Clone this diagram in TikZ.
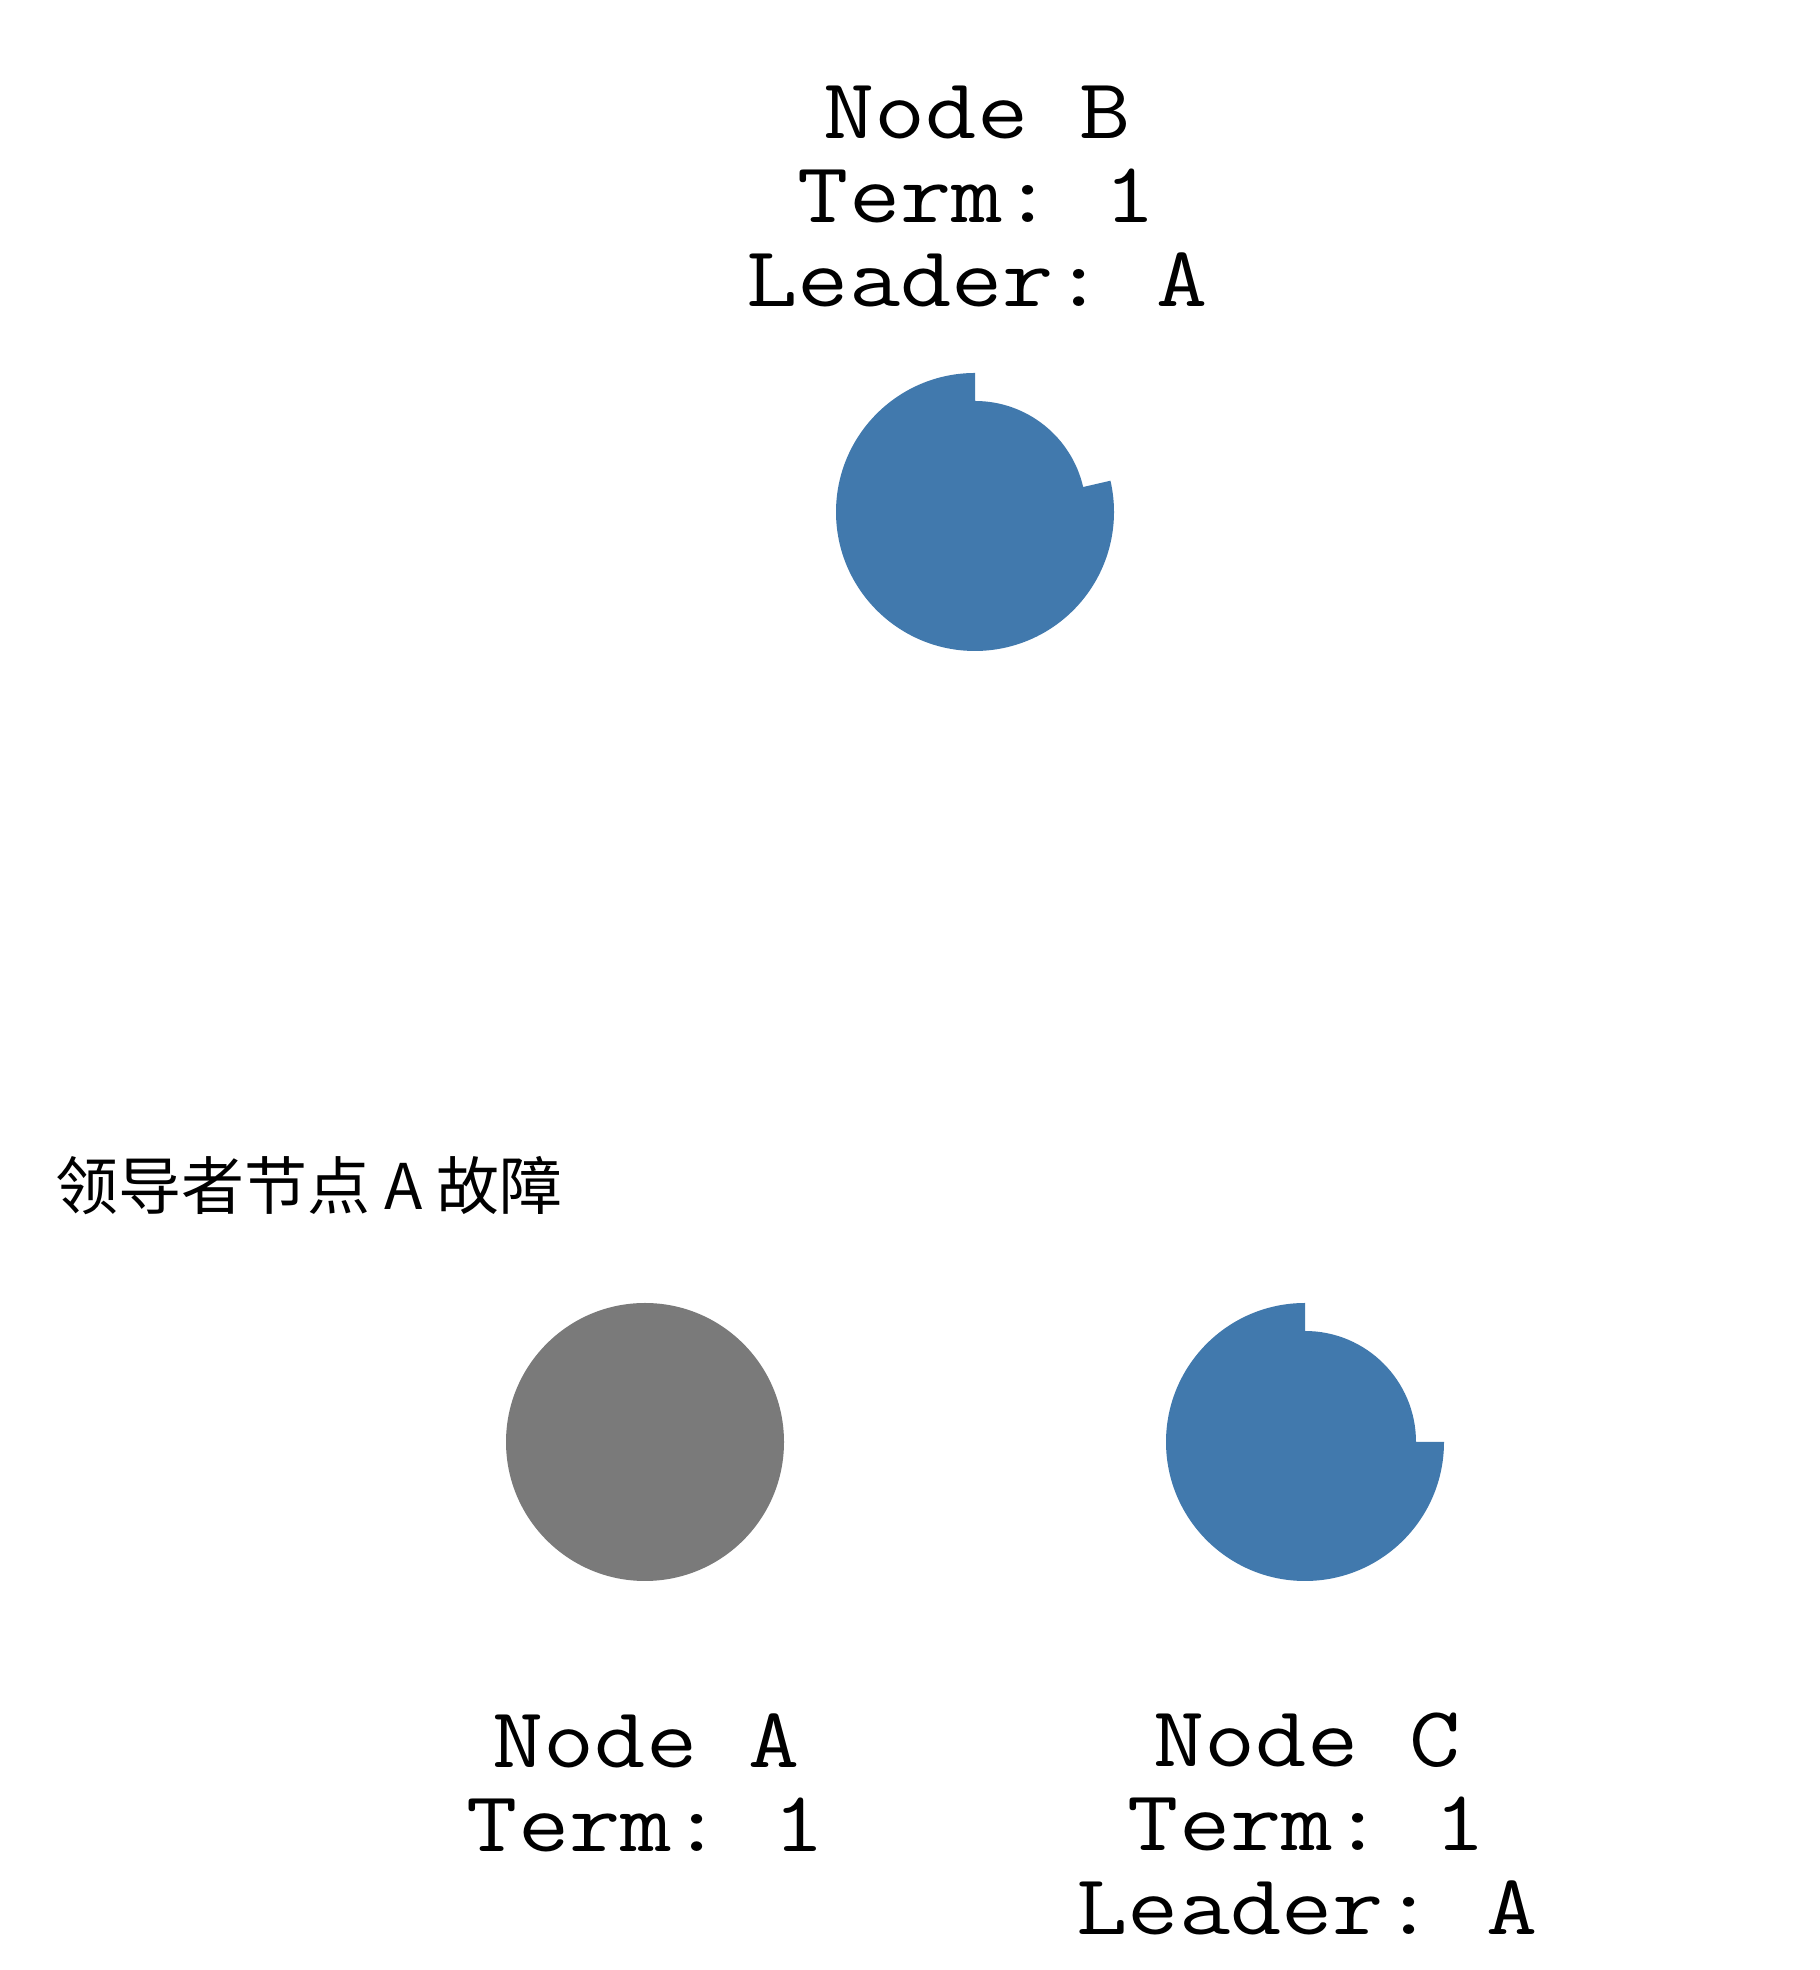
\documentclass[tikz,border=0pt]{standalone}
\usepackage{fontspec}
\setmonofont[FakeStretch=1.155]{Latin Modern Mono}
\newfontfamily\cjk{Noto Sans CJK SC}
\definecolor{nodeblue}{HTML}{4179AD}
\definecolor{deadgray}{HTML}{7A7A7A}
\tikzset{
  lbl/.style={font=\ttfamily\fontsize{86}{84}\selectfont, align=center, inner sep=0pt, anchor=base},
  note/.style={font=\cjk\fontsize{63}{70}\selectfont, inner sep=0pt, anchor=base west},
}
\begin{document}
\begin{tikzpicture}[x=1pt,y=1pt]
\useasboundingbox (0,0) rectangle (1820,1970);
\fill[white] (0,0) rectangle (1820,1970);
% centres
\coordinate (B) at (975,1458);
\coordinate (A) at (645,528);
\coordinate (C) at (1305,528);
% Node B (follower, timeout ring)
\fill[nodeblue] (B) ++(90:139) arc[start angle=90,end angle=373,radius=139]
  -- ++(193:28) arc[start angle=13,end angle=90,radius=111] -- cycle;
% Node A (failed)
\fill[deadgray] (A) circle[radius=139];
% Node C (follower, timeout ring)
\fill[nodeblue] (C) ++(90:139) arc[start angle=90,end angle=360,radius=139]
  -- ++(180:28) arc[start angle=0,end angle=90,radius=111] -- cycle;
% labels (anchor = baseline of the last line)
\node[lbl] (tB) at (977,1663) {Node B\\Term: 1\\Leader: A};
\node[lbl] (tA) at (646,118) {Node A\\Term: 1};
\node[lbl] (tC) at (1307,35) {Node C\\Term: 1\\Leader: A};
\node[note] (msg) at (55,760) {领导者节点 A 故障};
\end{tikzpicture}
\end{document}
